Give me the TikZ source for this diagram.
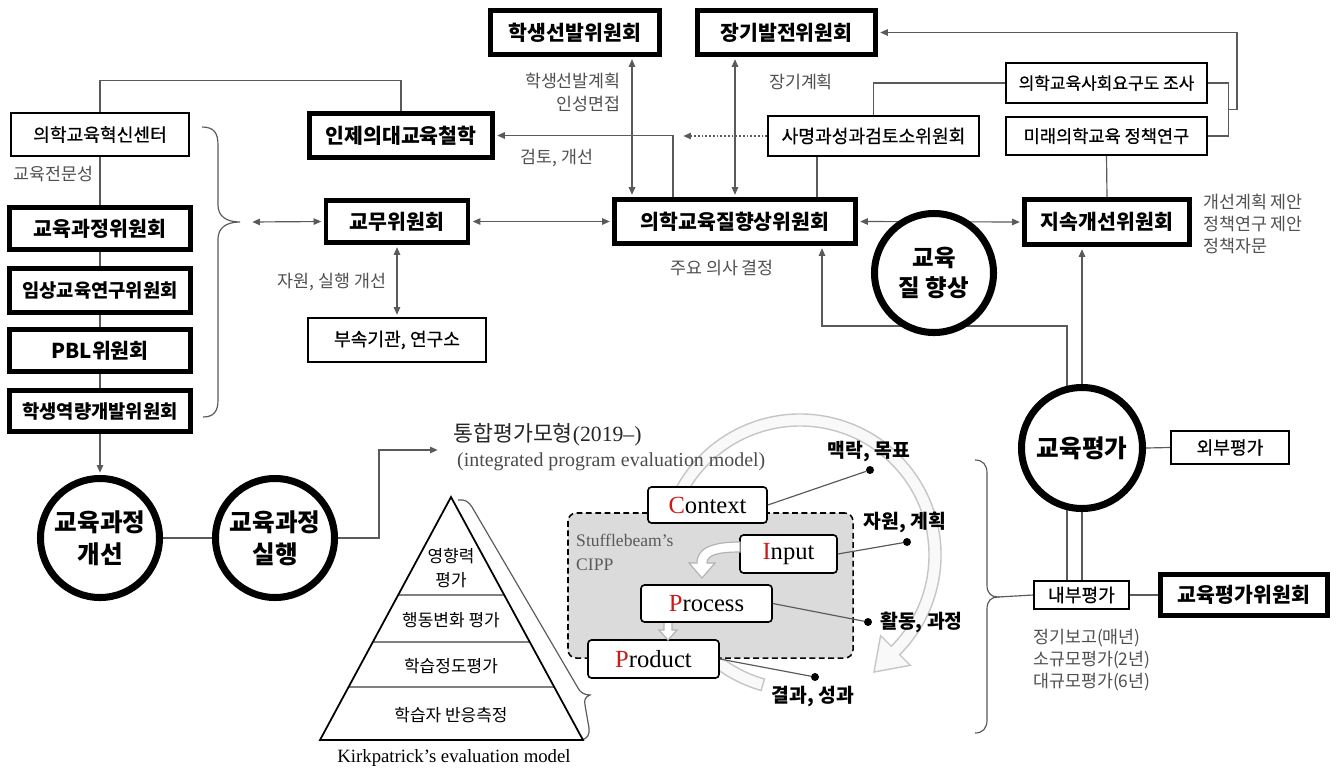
\documentclass[tikz,border=0pt]{standalone}
\usepackage{fontspec}
\setmainfont{Noto Sans CJK KR}
\newfontfamily\serf{Liberation Serif}
\newfontfamily\medf[FakeBold=0.6]{Noto Sans CJK KR}
\usetikzlibrary{arrows.meta,calc}
\pgfdeclarelayer{bg}
\pgfsetlayers{bg,main}
\definecolor{lg}{HTML}{5A5A5A}
\definecolor{lab}{HTML}{505050}
\definecolor{cred}{HTML}{D01818}
\tikzset{
  thickbox/.style={draw, line width=4pt, fill=white, inner sep=0pt, font=\bfseries\fontsize{17.5}{20}\selectfont},
  thinbox/.style={draw, line width=1.5pt, fill=white, inner sep=0pt, font=\medf\fontsize{15.5}{18}\selectfont},
  ring/.style={circle, draw, line width=6pt, fill=white, inner sep=0pt, minimum size=3.57cm, align=center, font=\bfseries\fontsize{21}{27}\selectfont},
  conn/.style={draw=lg, line width=1pt},
  arr/.style={-{Triangle[length=6.5pt,width=5.5pt]}, shorten >=2pt},
  dbl/.style={{Triangle[length=6.5pt,width=5.5pt]}-{Triangle[length=6.5pt,width=5.5pt]}, shorten >=2pt, shorten <=2pt},
  lbl/.style={text=lab, inner sep=0pt, font=\fontsize{14.8}{19}\selectfont},
  cbox/.style={draw, rounded corners=3pt, line width=1.4pt, fill=white, inner sep=0pt, font=\serf\fontsize{21}{24}\selectfont},
  dot/.style={circle, fill=black, inner sep=0pt, minimum size=0.24cm},
  clab/.style={inner sep=0pt, font=\bfseries\fontsize{16.5}{18}\selectfont},
  pyr/.style={inner sep=0pt, align=center, font=\fontsize{14.5}{20}\selectfont},
  hollow/.style={draw=gray!60, line width=1pt, fill=white},
}
\begin{document}
\begin{tikzpicture}[x=0.03cm, y=-0.03cm]
\useasboundingbox (0,0) rectangle (1337,772);

% ---------- boxes ----------
\node[thickbox, minimum width=5.07cm, minimum height=1.32cm] (sel) at (575,32.5) {학생선발위원회};
\node[thickbox, minimum width=5.34cm, minimum height=1.32cm] (ltd) at (786.5,32.5) {장기발전위원회};
\node[thickbox, minimum width=5.49cm, minimum height=1.32cm] (phil) at (401,135.5) {인제의대교육철학};
\node[thickbox, minimum width=4.26cm, minimum height=1.26cm] (gm) at (397,221.5) {교무위원회};
\node[thickbox, minimum width=7.23cm, minimum height=1.32cm] (qi) at (735,221.5) {의학교육질향상위원회};
\node[thickbox, minimum width=4.95cm, minimum height=1.35cm] (ci) at (1107,222) {지속개선위원회};
\node[thickbox, minimum width=5.43cm, minimum height=1.26cm] (cc) at (100,228.5) {교육과정위원회};
\node[thickbox, minimum width=5.43cm, minimum height=1.32cm, font=\bfseries\fontsize{16}{18}\selectfont] (cr) at (100,290.5) {임상교육연구위원회};
\node[thickbox, minimum width=5.43cm, minimum height=1.26cm] (pbl) at (100,350.5) {PBL위원회};
\node[thickbox, minimum width=5.43cm, minimum height=1.23cm, font=\bfseries\fontsize{16}{18}\selectfont] (sd) at (100,411) {학생역량개발위원회};
\node[thickbox, minimum width=5.01cm, minimum height=1.23cm] (ev) at (1244,595) {교육평가위원회};

\node[thinbox, minimum width=5.34cm, minimum height=1.29cm] (inn) at (100,134.5) {의학교육혁신센터};
\node[thinbox, minimum width=6.33cm, minimum height=1.2cm] (msr) at (873.5,136) {사명과성과검토소위원회};
\node[thinbox, minimum width=6.03cm, minimum height=1.2cm, font=\medf\fontsize{14.5}{18}\selectfont] (soc) at (1106.5,83) {의학교육사회요구도 조사};
\node[thinbox, minimum width=6.03cm, minimum height=1.14cm, font=\medf\fontsize{15}{18}\selectfont] (fut) at (1106.5,136) {미래의학교육 정책연구};
\node[thinbox, minimum width=5.34cm, minimum height=1.32cm] (aff) at (397,340) {부속기관, 연구소};
\node[thinbox, minimum width=3.54cm, minimum height=0.99cm] (ext) at (1230,447.5) {외부평가};
\node[thinbox, minimum width=2.85cm, minimum height=0.84cm] (int) at (1081.5,595) {내부평가};

% ---------- circles ----------
\node[ring, font=\bfseries\fontsize{20}{25}\selectfont] (eq) at (934,273) {교육\\질 향상};
\node[ring] (ce) at (100,538) {교육과정\\개선};
\node[ring] (cx) at (275,538) {교육과정\\실행};
\node[ring, minimum size=3.63cm] (ea) at (1082,448) {교육평가};

% ---------- connectors ----------
\coordinate (brtip) at (240,222);
\coordinate (brarr) at (250,222);
\coordinate (xa) at (632,0);
\coordinate (xb) at (735,0);
\coordinate (xc) at (673,0);
\coordinate (xd) at (817,0);
\coordinate (xe) at (1067,0);
\coordinate (xf) at (822,0);
\coordinate (xg) at (1082,0);
\coordinate (dotend) at (681,136);
\coordinate (brk) at (1228,109.5);
\coordinate (jn) at (1067,326);
\coordinate (tt) at (440,450);
\coordinate (brtip2) at (998,597);

\begin{pgfonlayer}{bg}
\fill[white] (0,0) rectangle (1337,772);
\draw[conn] (inn.south) -- (cc.north);
\draw[conn] (cc.south) -- (cr.north) (cr.south) -- (pbl.north) (pbl.south) -- (sd.north);
\draw[conn,arr] (sd.south) -- (ce.north);
\draw[conn] (inn.north) -- ++(0,-32) -| (phil.north);
\draw[conn,dbl] (brarr) -- (gm.west);
\draw[conn,dbl] (gm.east) -- (qi.west);
\draw[conn,dbl] (qi.east) -- (ci.west);
\draw[conn,dbl] (gm.south) -- (aff.north);
\draw[conn,dbl] (sel.south -| xa) -- (qi.north -| xa);
\draw[conn,dbl] (ltd.south -| xb) -- (qi.north -| xb);
\draw[conn,arr] (qi.north -| xc) |- (phil.east);
\draw[conn,arr,dash pattern=on 1.6pt off 1.6pt] (msr.west) -- (dotend);
\draw[conn] (msr.south -| xd) -- (qi.north -| xd);
\draw[conn] (msr.north) |- (soc.west);
\draw[conn] (fut.south) -- (ci.north);
\draw[conn] (soc.east) -- ++(21,0) |- (fut.east);
\draw[conn,arr] (brk) -- ++(9,0) |- (ltd.east);
\draw[conn,arr] (int.north -| xe) -- (jn) -| (qi.south -| xf);
\draw[conn,arr] (int.north -| xg) -- (ci.south -| xg);
\draw[conn] (ea.east) -- (ext.west);
\draw[conn] (int.east) -- (ev.west);
\draw[conn] (ce.east) -- (cx.west);
\draw[conn,arr] (cx.east) -- ++(41,0) |- (tt);
\draw[conn] (brtip2) -- (int.west);
\end{pgfonlayer}

% ---------- braces ----------
\draw[conn] (202,127) .. controls (214,127) and (218,133) .. (218,145) -- (218,205) .. controls (218,216) and (226,222) .. (brtip) .. controls (226,222) and (218,228) .. (218,239) -- (218,400) .. controls (218,411) and (214,417) .. (203,417);
\draw[conn] (975,460) .. controls (983,460) and (987,465) .. (987,473) -- (987,585) .. controls (987,593) and (991,597) .. (brtip2) .. controls (991,597) and (987,601) .. (987,609) -- (987,720) .. controls (987,728) and (983,733) .. (975,733);
\draw[conn] (458,500) .. controls (465,499) and (469,502) .. (472,507) -- (578,688) .. controls (580,692) and (584,695) .. (590,695) .. controls (585,697) and (584,700) .. (585,705) -- (589,728) .. controls (590,735) and (587,739) .. (581,740);

% ---------- labels ----------
\node[lbl, anchor=west] (t1) at (13,174) {교육전문성};
\node[lbl, align=right, anchor=east] (t2) at (621,92.5) {학생선발계획\\인성면접};
\node[lbl] (t3) at (801,82) {장기계획};
\node[lbl] (t4) at (557,158) {검토, 개선};
\node[lbl] (t5) at (332,282) {자원, 실행 개선};
\node[lbl] (t6) at (722,268) {주요 의사 결정};
\node[lbl, align=left, anchor=west] (t7) at (1203,224) {개선계획 제안\\정책연구 제안\\정책자문};
\node[lbl, align=left, anchor=west] (t8) at (1033,660) {정기보고(매년)\\소규모평가(2년)\\대규모평가(6년)};

\node[anchor=west, inner sep=0pt, font=\fontsize{18.5}{20}\selectfont, text=black!85] (tg1) at (453,435) {통합평가모형{\serf(2019–)}};

% ---------- CIPP big cycle arrow ----------
\coordinate (C) at (800,555);
\draw[draw=gray!45, line width=1.2pt, fill=gray!5] ($(C)+(106:129)$) -- ($(C)+(106:141)$) arc[start angle=106, end angle=405, radius=141] -- ($(C)+(45:156)$) -- (874,672) -- ($(C)+(45:114)$) -- ($(C)+(45:129)$) arc[start angle=405, end angle=106, radius=129] -- cycle;

\node[anchor=west, inner sep=0pt, font=\serf\fontsize{17}{20}\selectfont, text=black!70] (tg2) at (457,462) {(integrated program evaluation model)};

\node[draw, dash pattern=on 5pt off 3pt, line width=1.3pt, fill=gray!28, rounded corners=7pt, minimum width=8.55cm, minimum height=4.35cm, inner sep=0pt] (cipp) at (710.5,585.5) {};
\node[anchor=north west, align=left, inner sep=0pt, text=black!65, font=\serf\fontsize{15}{20}\selectfont] (stf) at (576,534) {Stufflebeam’s\\CIPP};

\node[cbox, minimum width=3.57cm, minimum height=1.08cm] (ctx) at (707.5,505) {{\color{cred}C}ontext};
\node[cbox, minimum width=2.91cm, minimum height=1.14cm] (inp) at (788.5,554) {{\color{cred}I}nput};
\node[cbox, minimum width=3.93cm, minimum height=1.11cm] (proc) at (706.5,603.5) {{\color{cred}P}rocess};
\node[cbox, minimum width=3.93cm, minimum height=1.14cm] (prod) at (653.5,659) {{\color{cred}P}roduct};

\draw[hollow] (740,542) .. controls (712,542) and (697,548) .. (697,563) -- (689,563) -- (702,578) -- (715,563) -- (707,563) .. controls (707,555) and (718,552) .. (740,552) -- cycle;
\draw[hollow] (664,623) -- (664,630) -- (659,630) -- (668,640) -- (677,630) -- (672,630) -- (672,623);

\node[dot] (d1) at (870,470) {};
\node[dot] (d2) at (907,542) {};
\node[dot] (d3) at (868,622) {};
\node[dot] (d4) at (815,677) {};
\draw[conn] (ctx.east) -- (d1);
\draw[conn] (inp.east) -- (d2);
\draw[conn] (proc.east) -- (d3);
\draw[conn] (prod.east) -- (d4);
\node[clab] (l1) at (869,452) {맥락, 목표};
\node[clab] (l2) at (905,522) {자원, 계획};
\node[clab, anchor=west] (l3) at (880,622) {활동, 과정};
\node[clab] (l4) at (813,697) {결과, 성과};

% ---------- Kirkpatrick pyramid ----------
\coordinate (pa) at (451,497);
\coordinate (pl) at (320,740);
\coordinate (pr) at (583,740);
\draw[gray, line width=1pt] ($(pa)!0.403!(pl)$) -- ($(pa)!0.403!(pr)$)
  ($(pa)!0.597!(pl)$) -- ($(pa)!0.597!(pr)$)
  ($(pa)!0.782!(pl)$) -- ($(pa)!0.782!(pr)$);
\draw[line width=1.5pt, line join=miter] (pa) -- (pl) -- (pr) -- cycle;
\node[pyr] (k1) at (451,568) {영향력\\평가};
\node[pyr] (k2) at (451,620) {행동변화 평가};
\node[pyr] (k3) at (451,666) {학습정도평가};
\node[pyr] (k4) at (451,715) {학습자 반응측정};
\node[inner sep=0pt, font=\serf\fontsize{16}{18}\selectfont] (kp) at (454,758) {Kirkpatrick’s evaluation model};
\end{tikzpicture}
\end{document}
